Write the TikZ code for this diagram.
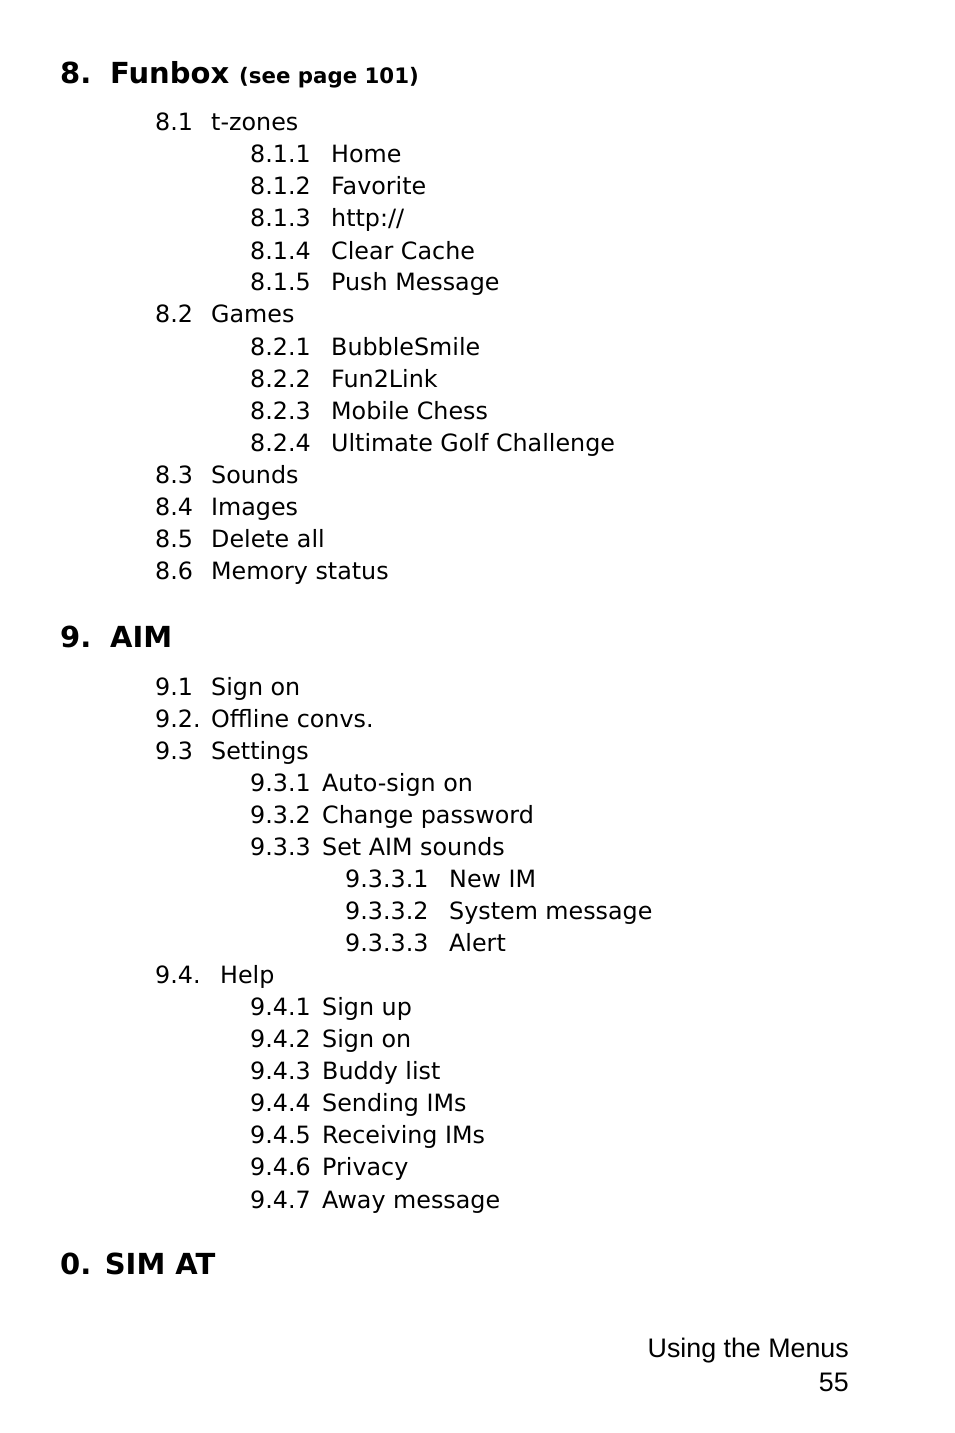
\documentclass[tikz,border=0pt]{standalone}
\usepackage{fontspec}
\setmainfont{DejaVu Sans}
\newfontfamily\footfont{Liberation Sans}
\begin{document}
\begin{tikzpicture}[x=1pt,y=-1pt,
 it/.style={anchor=base west,inner sep=0pt,font=\fontsize{23.8}{26}\selectfont},
 hd/.style={anchor=base west,inner sep=0pt,font=\fontsize{29}{32}\selectfont\bfseries},
 ft/.style={anchor=base east,inner sep=0pt,font=\fontsize{26.8}{30}\selectfont\footfont}]
\useasboundingbox (0,0) rectangle (954,1433);
\node[hd] (h8) at (60,83) {8.};
\node[hd] (h8t) at (110,83) {Funbox};
\node[anchor=base west,inner sep=0pt,font=\fontsize{21.3}{23}\selectfont\bfseries] (h8p) at (239,83) {(see page 101)};
\foreach \n/\nx/\t/\tx/\y [count=\i] in {
 8.1/155/t-zones/211/121, 8.1.1/250/Home/331/153, 8.1.2/250/Favorite/331/185,
 8.1.3/250/http:\slash\slash/331/217, 8.1.4/250/Clear Cache/331/250, 8.1.5/250/Push Message/331/281,
 8.2/155/Games/211/313, 8.2.1/250/BubbleSmile/331/346, 8.2.2/250/Fun2Link/331/378,
 8.2.3/250/Mobile Chess/331/410, 8.2.4/250/Ultimate Golf Challenge/331/442,
 8.3/155/Sounds/211/474, 8.4/155/Images/211/506, 8.5/155/Delete all/211/538,
 8.6/155/Memory status/211/570,
 9.1/155/Sign on/211/686, 9.2./155/Offline convs./211/718, 9.3/155/Settings/211/750,
 9.3.1/250/Auto-sign on/322/782, 9.3.2/250/Change password/322/814, 9.3.3/250/Set AIM sounds/322/846,
 9.3.3.1/345/New IM/449/878, 9.3.3.2/345/System message/449/910, 9.3.3.3/345/Alert/449/942,
 9.4./155/Help/220/974, 9.4.1/250/Sign up/322/1006, 9.4.2/250/Sign on/322/1038,
 9.4.3/250/Buddy list/322/1070, 9.4.4/250/Sending IMs/322/1102, 9.4.5/250/Receiving IMs/322/1134,
 9.4.6/250/Privacy/322/1166, 9.4.7/250/Away message/322/1199}
{
 \node[it] (n\i) at (\nx,\y+9) {\n};
 \node[it] (t\i) at (\tx,\y+9) {\t};
}
\node[hd] (h9) at (60,647) {9.};
\node[hd] (h9t) at (110,647) {AIM};
\node[hd] (h0) at (60,1274) {0. SIM AT};
\node[ft] (f1) at (849,1357) {Using the Menus};
\node[ft] (f2) at (849,1391) {55};
\end{tikzpicture}
\end{document}
